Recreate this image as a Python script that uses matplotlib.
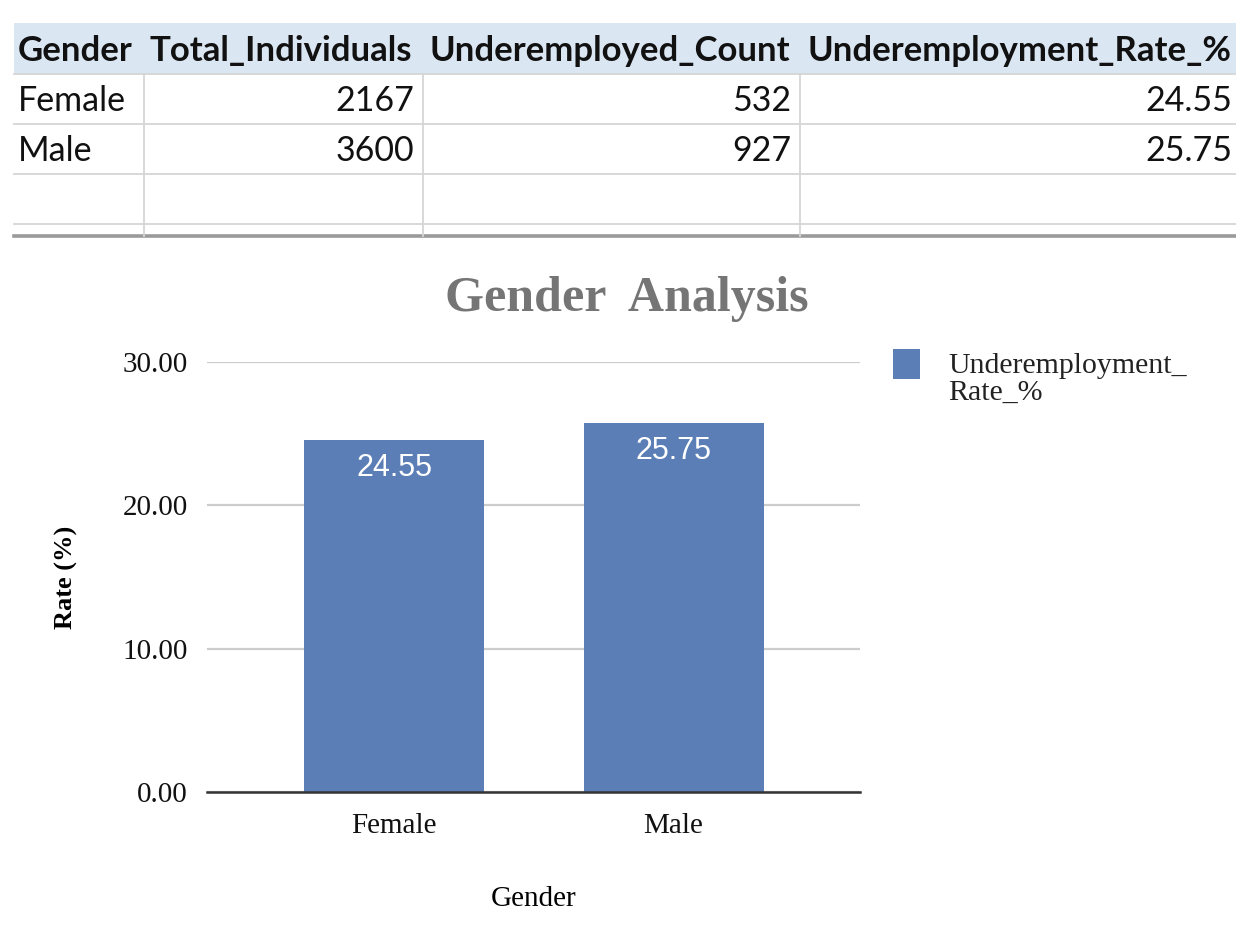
import matplotlib.pyplot as plt
from matplotlib.patches import Rectangle
import numpy as np

# table data
headers = ['Gender', 'Total_Individuals', 'Underemployed_Count', 'Underemployment_Rate_%']
genders = ['Female', 'Male']
total_individuals = [2167, 3600]
underemployed_count = [532, 927]
rate_pct = [24.55, 25.75]

BAR_COLOR = '#5A7EB5'
HEAD_BG = '#DBE6F3'
SERIF = 'Liberation Serif'
SANS = 'Liberation Sans'
TABLE_FONT = 'Lato'

W, H = 1236, 931
fig = plt.figure(figsize=(W / 100, H / 100), dpi=100)

# overlay in pixel coordinates for the spreadsheet part
ov = fig.add_axes([0, 0, 1, 1])
ov.set_xlim(0, W)
ov.set_ylim(H, 0)
ov.axis('off')

# header band
ov.add_patch(Rectangle((14, 23), W - 14, 51, facecolor=HEAD_BG, edgecolor='none'))
col_edges = [14, 144, 423, 800, W]
row_lines = [74, 124, 174, 224]
for y in row_lines:
    ov.plot([14, W], [y, y], color='#D6D6D6', lw=1.3)
ov.plot([14, W], [236, 236], color='#9A9A9A', lw=2.6)
for x in col_edges[1:-1]:
    ov.plot([x, x], [74, 236], color='#D6D6D6', lw=1.3)

head_x = [18, 150, 430, 808]
for x, h in zip(head_x, headers):
    ov.text(x, 51, h, fontsize=25, fontweight='bold', family=TABLE_FONT,
            ha='left', va='center', color='#111111')

row_y = [101, 151]
for i, y in enumerate(row_y):
    ov.text(18, y, genders[i], fontsize=24.5, family=TABLE_FONT,
            ha='left', va='center', color='#111111')
    ov.text(414, y, str(total_individuals[i]), fontsize=24.5, family=TABLE_FONT,
            ha='right', va='center', color='#111111')
    ov.text(791, y, str(underemployed_count[i]), fontsize=24.5, family=TABLE_FONT,
            ha='right', va='center', color='#111111')
    ov.text(1232, y, f'{rate_pct[i]:.2f}', fontsize=24.5, family=TABLE_FONT,
            ha='right', va='center', color='#111111')

# legend drawn by hand
ov.add_patch(Rectangle((893, 349), 27, 30, facecolor=BAR_COLOR, edgecolor='none'))
ov.text(948, 353, 'Underemployment_\nRate_%', fontsize=21.5, family=SERIF,
        ha='left', va='top', color='#222222', linespacing=1.05)

# title
ov.text(627, 299, 'Gender  Analysis', fontsize=36, fontweight='bold', family=SERIF,
        ha='center', va='center', color='#757575')

# bar chart
ax = fig.add_axes([207 / W, 1 - 792 / H, 653 / W, 430 / H])
x = np.arange(len(genders))
bars = ax.bar(x, rate_pct, width=0.644, color=BAR_COLOR, zorder=2)
ax.set_xlim(-0.669, 1.667)
ax.set_ylim(0, 30)
ax.set_yticks([0, 10, 20, 30])
ax.set_yticklabels([f'{v:.2f}' for v in [0, 10, 20, 30]], family=SERIF, fontsize=21)
ax.set_xticks(x)
ax.set_xticklabels(genders, family=SERIF, fontsize=21)
ax.tick_params(axis='both', length=0, colors='#111111')
ax.tick_params(axis='y', pad=14)
ax.tick_params(axis='x', pad=15)
ax.grid(axis='y', color='#CCCCCC', lw=1.6, zorder=0)
for s in ['top', 'right', 'left']:
    ax.spines[s].set_visible(False)
ax.spines['bottom'].set_color('#333333')
ax.spines['bottom'].set_linewidth(1.8)
ax.spines['bottom'].set_zorder(3)

for b, v in zip(bars, rate_pct):
    ax.annotate(f'{v:.2f}', (b.get_x() + b.get_width() / 2, v),
                xytext=(0, -20), textcoords='offset points',
                ha='center', va='center', color='white', fontsize=22, family=SANS)

ax.set_ylabel('Rate (%)', family=SERIF, fontsize=19, fontweight='bold', labelpad=32)
ax.set_xlabel('Gender', family=SERIF, fontsize=21, labelpad=34)

fig.savefig('out.png', dpi=100, facecolor='white')
